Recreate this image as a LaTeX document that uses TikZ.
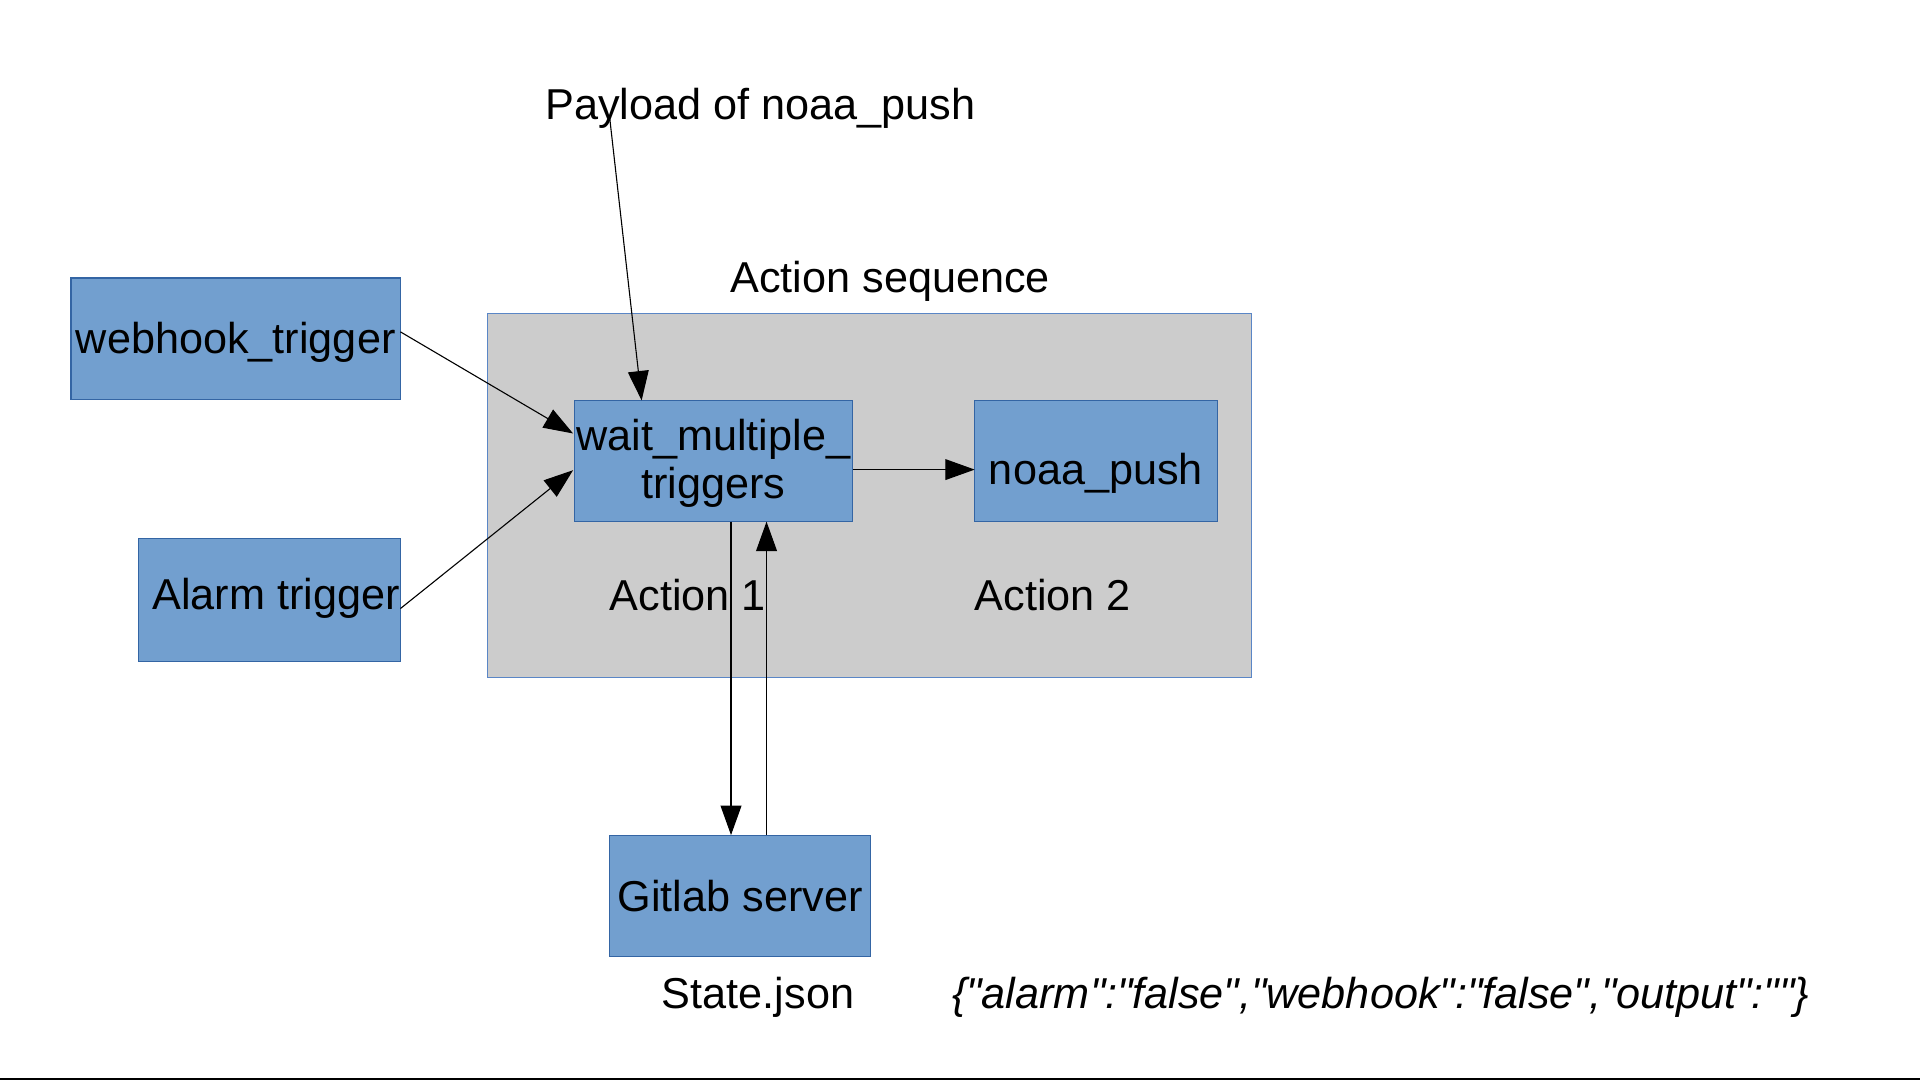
\documentclass[tikz,border=0pt]{standalone}
\usepackage{fontspec}
\setmainfont{Liberation Sans}[Ligatures=TeXOff]
\usetikzlibrary{arrows.meta,calc}
\definecolor{boxfill}{HTML}{729FCF}
\definecolor{boxline}{HTML}{3465A4}
\definecolor{grayfill}{HTML}{CCCCCC}
\definecolor{grayline}{HTML}{5A86C6}
\begin{document}
\begin{tikzpicture}[x=1pt,y=-1pt,
  every node/.style={font=\fontsize{35.3}{39.5}\selectfont, inner sep=0pt, outer sep=0pt},
  bluebox/.style={draw=boxline, fill=boxfill, line width=0.9pt, rectangle},
  textlabel/.style={anchor=base},
  conn/.style={line width=0.9pt, -{Triangle[length=24pt,width=17pt]}}]
\useasboundingbox (0,0) rectangle (1568,882);
\fill[white] (0,0) rectangle (1568,882);
\draw[line width=1.6pt] (0,881) -- (1568,881);

% action sequence container
\node[draw=grayline, fill=grayfill, line width=0.9pt, minimum width=624pt, minimum height=297pt] (seq) at (710,404.5) {};
\node[textlabel] (seqlabel) at (727,238.5) {Action sequence};

\node[bluebox, minimum width=269pt, minimum height=99pt, text height=26pt, text depth=1pt] (webhook) at (192.5,276.5) {webhook\_trigger};
\node[bluebox, minimum width=214pt, minimum height=100pt, text height=20pt, text depth=4.8pt] (alarm) at (220,490) {\hspace*{11pt}Alarm trigger};
\node[bluebox, minimum width=227pt, minimum height=99pt, text height=4pt, text depth=21pt] (wait) at (582.5,376.5) {\begin{tabular}[t]{@{}c@{}}wait\_multiple\_\\triggers\end{tabular}};
\node[bluebox, minimum width=198pt, minimum height=99pt, text height=38pt, text depth=-1pt] (noaa) at (895,376.5) {noaa\_push};
\node[bluebox, minimum width=213pt, minimum height=99pt, text height=26pt, text depth=1pt] (gitlab) at (604.5,731.5) {Gitlab server};

\node[textlabel] (payload) at (621,97.5) {Payload of noaa\_push};
\node[anchor=base west] (act1) at (498,498.5) {Action 1};
\node[anchor=base west] (act2) at (796,498.5) {Action 2};
\node[textlabel] (state) at (619,824) {State.json};
\node[textlabel, font=\fontsize{35.3}{39.5}\selectfont\itshape] (json) at (1127.5,824) {\{"alarm":"false","webhook":"false","output":""\}};

% connectors
\coordinate (pstart) at (498,97);
\draw[conn] (pstart) -- ($(wait.north west)+(55,0)$);
\draw[conn] ($(webhook.east)+(0,-5.5)$) -- ($(wait.west)+(-1,-22.5)$);
\draw[conn] ($(alarm.east)+(0,7)$) -- ($(wait.west)+(-1,7.5)$);
\draw[conn] ($(wait.east)+(1,7)$) -- ($(noaa.west)+(0,7)$);
\draw[conn] ($(wait.south west)+(128,0)$) -- ($(gitlab.north west)+(99,0)$);
\draw[conn] ($(gitlab.north west)+(128,0)$) -- ($(wait.south west)+(157,0)$);
\end{tikzpicture}
\end{document}
